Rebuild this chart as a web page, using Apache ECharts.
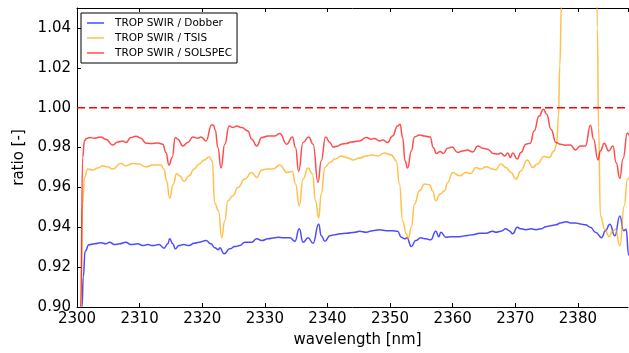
<!DOCTYPE html>
<html>
<head>
<meta charset="utf-8">
<script src="https://cdn.jsdelivr.net/npm/echarts@6/dist/echarts.min.js"></script>
<style>
html,body{margin:0;padding:0;background:#fff;}
#chart{width:629px;height:353px;}
</style>
</head>
<body>
<div id="chart"></div>
<script>
// ---- data ----
const seriesNames = ['TROP SWIR / Dobber', 'TROP SWIR / TSIS', 'TROP SWIR / SOLSPEC'];
const xTicks = [2300, 2310, 2320, 2330, 2340, 2350, 2360, 2370, 2380];
const yTicks = [0.90, 0.92, 0.94, 0.96, 0.98, 1.00, 1.02, 1.04];

const dobberX = [2300.4,2300.8,2301.0,2301.3,2301.9,2302.8,2303.8,2304.6,2305.2,2306.0,2306.8,2307.8,2308.6,2309.7,2310.5,2311.3,2312.1,2313.1,2313.9,2314.5,2314.8,2315.3,2315.7,2316.3,2317.0,2317.9,2318.7,2319.5,2320.6,2321.4,2322.0,2322.6,2322.8,2323.5,2324.4,2325.2,2326.0,2326.8,2327.9,2328.7,2329.5,2330.5,2331.6,2332.1,2332.9,2334.0,2334.8,2335.5,2336.1,2336.9,2337.7,2338.6,2339.0,2339.6,2340.4,2341.2,2342.0,2343.0,2344.4,2345.1,2346.2,2347.2,2348.3,2349.4,2350.4,2351.2,2351.8,2352.3,2352.7,2353.4,2354.1,2354.9,2355.7,2356.5,2357.3,2357.8,2358.1,2358.9,2359.7,2361.1,2362.1,2363.2,2364.3,2365.3,2366.4,2366.9,2367.7,2368.5,2369.0,2369.6,2370.3,2370.9,2371.7,2372.5,2373.3,2374.1,2374.9,2375.7,2376.5,2377.2,2378.2,2378.8,2379.6,2380.4,2381.2,2382.0,2382.8,2383.8,2384.4,2385.1,2385.9,2386.7,2387.3,2387.7,2388.1,2389.0];
const dobberY = [0.70,0.90,0.915,0.928,0.9312,0.9317,0.9322,0.9317,0.9325,0.9313,0.9317,0.9325,0.9313,0.9317,0.9308,0.9313,0.9308,0.9313,0.9295,0.9317,0.9342,0.9317,0.9292,0.9308,0.9313,0.9308,0.932,0.9325,0.9333,0.9317,0.9297,0.9287,0.9297,0.9267,0.9292,0.9303,0.9308,0.9325,0.9325,0.9342,0.9333,0.9342,0.9347,0.935,0.9347,0.9347,0.933,0.9392,0.9325,0.9347,0.932,0.9417,0.9358,0.933,0.9358,0.9363,0.9367,0.937,0.9375,0.938,0.9375,0.9383,0.9387,0.9383,0.9383,0.938,0.935,0.9342,0.9347,0.9303,0.9333,0.9347,0.9342,0.9337,0.938,0.9353,0.9375,0.935,0.9353,0.9353,0.9358,0.9363,0.937,0.937,0.938,0.9375,0.938,0.9392,0.9383,0.9367,0.94,0.9392,0.9388,0.9392,0.9388,0.9392,0.9403,0.9408,0.9412,0.9422,0.9428,0.9422,0.9422,0.9417,0.9412,0.94,0.9375,0.9348,0.9383,0.9415,0.9357,0.9457,0.9383,0.9390,0.9262,0.918];

const tsisX = [2300.3,2300.6,2300.9,2301.2,2301.7,2302.5,2303.3,2304.1,2304.9,2305.7,2307.0,2307.8,2308.9,2309.9,2311.0,2312.1,2313.4,2313.9,2314.3,2314.8,2315.4,2315.9,2316.4,2317.1,2317.9,2318.7,2319.5,2320.3,2321.1,2321.6,2322.0,2322.6,2323.1,2323.6,2324.1,2324.9,2325.7,2326.8,2327.9,2328.7,2329.5,2330.3,2331.3,2332.4,2333.5,2334.4,2334.9,2335.5,2336.1,2336.9,2337.6,2338.1,2338.6,2339.0,2339.6,2340.4,2341.2,2342.2,2343.0,2343.8,2344.0,2345.1,2346.2,2347.2,2348.0,2349.1,2350.2,2351.0,2351.5,2352.0,2352.6,2352.9,2353.4,2353.9,2354.7,2355.5,2356.3,2356.8,2357.3,2358.0,2358.7,2359.2,2360.0,2361.1,2362.1,2362.9,2363.7,2364.5,2365.3,2366.4,2366.9,2367.7,2368.5,2369.3,2370.1,2370.9,2371.9,2372.8,2373.5,2374.6,2375.4,2376.2,2376.6,2376.9,2377.1,2377.4,2377.8,2378.5,2380.5,2382.3,2382.9,2383.1,2383.3,2383.6,2384.3,2385.0,2385.5,2386.0,2386.7,2387.4,2387.9,2388.3,2389.0];
const tsisY = [0.75,0.90,0.952,0.965,0.9692,0.9687,0.9697,0.9708,0.9703,0.9692,0.972,0.9708,0.972,0.9717,0.9703,0.9712,0.9712,0.9692,0.9633,0.9547,0.9617,0.967,0.9658,0.963,0.9658,0.9692,0.9717,0.9737,0.9753,0.9733,0.952,0.9483,0.9347,0.9433,0.9533,0.9558,0.96,0.9642,0.9675,0.965,0.9687,0.9692,0.9692,0.9713,0.9675,0.968,0.9617,0.9508,0.9642,0.9697,0.9667,0.9533,0.9447,0.9567,0.97,0.9725,0.9742,0.9758,0.975,0.9742,0.9737,0.9747,0.9758,0.9763,0.9758,0.9772,0.9763,0.9733,0.9617,0.9433,0.9367,0.9342,0.94,0.9517,0.9583,0.9617,0.9613,0.9583,0.9533,0.9567,0.9583,0.9625,0.9675,0.9658,0.9675,0.967,0.97,0.9692,0.9703,0.9692,0.9688,0.9717,0.97,0.9675,0.9642,0.9683,0.9738,0.97,0.9717,0.9755,0.975,0.9783,0.9817,0.9958,1.0208,1.054,1.15,1.30,1.35,1.30,1.12,1.04,0.99,0.9457,0.939,0.9353,0.938,0.939,0.9307,0.9507,0.964,0.965,0.963];

const solspecX = [2300.3,2300.6,2300.9,2301.2,2301.5,2302.0,2302.8,2303.8,2304.6,2305.7,2306.5,2307.3,2307.8,2308.6,2309.4,2310.2,2311.0,2311.8,2312.9,2313.7,2314.2,2314.7,2315.2,2315.7,2316.1,2316.9,2317.7,2318.5,2319.3,2319.8,2320.6,2321.5,2321.8,2322.1,2322.5,2323.0,2323.6,2324.3,2324.9,2325.5,2326.3,2327.3,2327.9,2328.7,2329.5,2330.5,2331.6,2332.4,2333.5,2334.4,2334.9,2335.4,2336.1,2337.0,2337.7,2338.5,2339.0,2339.7,2340.4,2340.9,2341.7,2342.2,2343.0,2343.8,2345.1,2346.2,2347.0,2347.5,2348.3,2348.9,2349.6,2350.4,2351.2,2351.6,2352.0,2352.4,2352.8,2353.4,2353.9,2354.7,2355.5,2356.4,2356.9,2357.4,2358.0,2358.5,2359.2,2359.9,2360.8,2361.6,2362.4,2363.2,2364.0,2364.8,2365.6,2366.5,2367.2,2367.7,2368.3,2368.8,2369.2,2369.6,2370.3,2370.9,2371.7,2372.4,2373.0,2373.8,2374.5,2375.0,2375.7,2376.5,2377.2,2378.0,2378.8,2379.6,2380.4,2381.2,2382.0,2382.5,2383.2,2383.6,2384.2,2384.9,2385.6,2386.1,2386.7,2387.2,2387.9,2388.5,2389.0];
const solspecY = [0.75,0.90,0.975,0.9835,0.9845,0.985,0.9847,0.9853,0.9842,0.9813,0.9828,0.9833,0.9825,0.985,0.9857,0.9847,0.9822,0.982,0.9823,0.9817,0.9775,0.9712,0.975,0.985,0.9842,0.9808,0.9825,0.9853,0.9847,0.9853,0.9833,0.9913,0.9912,0.9885,0.98,0.9697,0.9817,0.9908,0.99,0.9908,0.99,0.9883,0.9842,0.9808,0.985,0.9858,0.9858,0.987,0.9817,0.9853,0.98,0.968,0.9825,0.9853,0.9817,0.9625,0.9733,0.9853,0.9825,0.9803,0.9808,0.9817,0.982,0.9828,0.9833,0.985,0.9842,0.9845,0.9833,0.9838,0.9825,0.9858,0.9908,0.9917,0.985,0.9733,0.9697,0.9783,0.9853,0.9863,0.9858,0.9853,0.98,0.977,0.978,0.977,0.9797,0.9803,0.9775,0.9783,0.9787,0.9778,0.9808,0.9797,0.9792,0.977,0.9767,0.9772,0.9758,0.9772,0.975,0.9772,0.9742,0.9775,0.9817,0.9822,0.9883,0.9958,0.9992,0.9967,0.9892,0.9825,0.9817,0.9812,0.9813,0.9788,0.9808,0.9808,0.9912,0.9842,0.9738,0.9783,0.9822,0.9783,0.9808,0.9725,0.9645,0.9742,0.9873,0.985,0.984];

const refX = [2300, 2388];
const refY = [1.0, 1.0];

// ---- chart ----
const FONT = 'DejaVu Sans';
const pairs = (xs, ys) => xs.map((x, i) => [x, ys[i]]);
const colors = ['rgba(0,0,255,0.7)', 'rgba(255,165,0,0.7)', 'rgba(255,0,0,0.7)'];
const chart = echarts.init(document.getElementById('chart'), null, {renderer: 'canvas'});

const xBase = {
  type: 'value', min: xTicks[0], max: 2388, interval: 10,
  axisLine: {show: true, onZero: false, lineStyle: {color: '#000', width: 1}},
  axisTick: {show: true, inside: true, length: 4, lineStyle: {color: '#000'}},
  splitLine: {show: false}
};

function lineSeries(name, xs, ys, color) {
  return {
    name: name, type: 'line', data: pairs(xs, ys),
    showSymbol: false, symbol: 'none', smooth: 0.5, smoothMonotone: 'x', clip: true,
    color: color,
    itemStyle: {color: color},
    lineStyle: {color: color, width: 1.5},
    emphasis: {disabled: true}
  };
}

chart.setOption({
  animation: false,
  backgroundColor: '#fff',
  grid: {left: 77, top: 8, width: 551, height: 300, containLabel: false},
  legend: {
    show: true, orient: 'vertical', left: 81, top: 13,
    icon: 'rect', itemWidth: 17, itemHeight: 1.5, itemGap: 3,
    padding: [4, 5, 4, 6],
    borderColor: '#000', borderWidth: 1, borderRadius: 0, backgroundColor: '#fff',
    textStyle: {fontFamily: FONT, fontSize: 10.5, color: '#000', lineHeight: 12, padding: [0, 0, 0, 6]},
    data: seriesNames,
    selectedMode: false
  },
  xAxis: [
    Object.assign({}, xBase, {
      position: 'bottom',
      name: 'wavelength [nm]', nameLocation: 'middle', nameGap: 26,
      nameTextStyle: {fontFamily: FONT, fontSize: 15, color: '#000', padding: [0, 0, 0, 10]},
      axisLabel: {show: true, margin: 5, fontFamily: FONT, fontSize: 15, color: '#000', showMaxLabel: false,
        formatter: v => String(Math.round(v))}
    }),
    Object.assign({}, xBase, {position: 'top', axisLabel: {show: false}})
  ],
  yAxis: {
    type: 'value', min: yTicks[0], max: 1.05, interval: 0.02,
    name: 'ratio [-]', nameLocation: 'middle', nameGap: 48,
    nameTextStyle: {fontFamily: FONT, fontSize: 15, color: '#000'},
    axisLine: {show: true, onZero: false, lineStyle: {color: '#000', width: 1}},
    axisTick: {show: true, inside: true, length: 4, lineStyle: {color: '#000'}},
    splitLine: {show: false},
    axisLabel: {show: true, margin: 6, fontFamily: FONT, fontSize: 15, color: '#000', showMaxLabel: false,
      formatter: v => v.toFixed(2)}
  },
  series: [
    lineSeries(seriesNames[0], dobberX, dobberY, colors[0]),
    lineSeries(seriesNames[1], tsisX, tsisY, colors[1]),
    lineSeries(seriesNames[2], solspecX, solspecY, colors[2]),
    {
      name: 'ref', type: 'line', data: pairs(refX, refY), showSymbol: false, symbol: 'none',
      lineStyle: {color: '#ff0000', width: 1.5, type: [8, 4]}, emphasis: {disabled: true}, z: 5
    }
  ]
});
</script>
</body>
</html>
